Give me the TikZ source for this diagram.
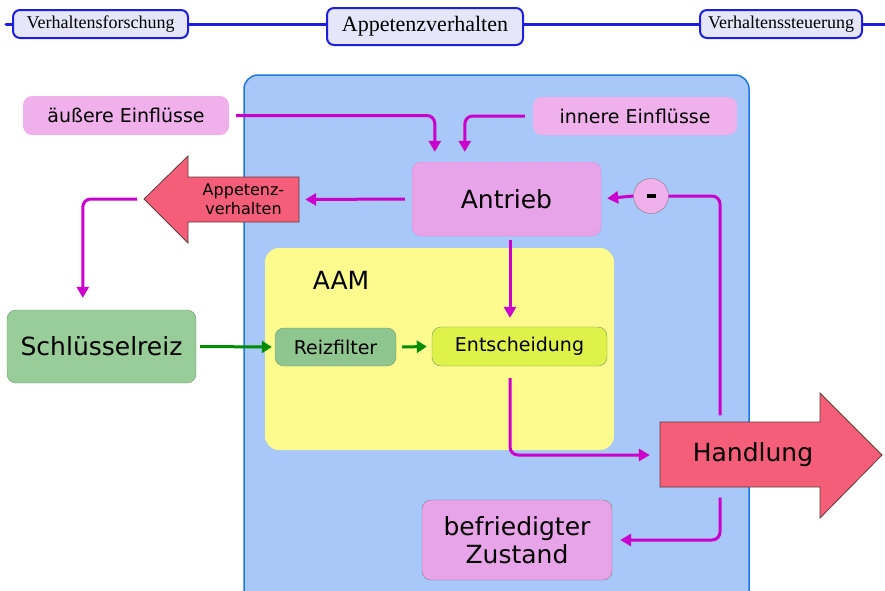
\documentclass[tikz,border=0pt]{standalone}
\usepackage{fontspec}
\setmainfont{DejaVu Sans}
\newfontfamily\toplabelfont{Liberation Serif}
\usetikzlibrary{arrows.meta,calc}

\definecolor{areablue}{RGB}{168,200,250}
\definecolor{areaedge}{RGB}{30,120,230}
\definecolor{aamyellow}{RGB}{253,251,142}
\definecolor{lilac}{RGB}{240,176,236}
\definecolor{drivepink}{RGB}{232,164,232}
\definecolor{pinkedge}{RGB}{205,145,215}
\definecolor{keygreen}{RGB}{152,204,152}
\definecolor{filtergreen}{RGB}{143,197,143}
\definecolor{greenedge}{RGB}{110,150,110}
\definecolor{decidegreen}{RGB}{222,242,74}
\definecolor{arrowred}{RGB}{245,94,120}
\definecolor{redge}{RGB}{90,60,60}
\definecolor{linkmagenta}{RGB}{204,0,204}
\definecolor{stimgreen}{RGB}{0,140,0}
\definecolor{toplav}{RGB}{230,230,250}
\definecolor{topblue}{RGB}{30,30,225}

\begin{document}
\begin{tikzpicture}[x=1pt, y=-1pt,
    box/.style={rounded corners=9pt, align=center, inner sep=0pt},
    bigtext/.style={font=\fontsize{25}{30}\selectfont},
    midtext/.style={font=\fontsize{19}{23}\selectfont},
    toplabel/.style={draw=topblue, line width=2pt, fill=toplav, rounded corners=7pt, inner sep=0pt},
    link/.style={-{Triangle[length=11pt,width=12pt]}, linkmagenta, line width=3pt, rounded corners=8pt},
    stim/.style={-{Triangle[length=10pt,width=12pt]}, stimgreen, line width=3pt},
    bigarrow/.style={fill=arrowred, draw=redge, line width=0.8pt}
  ]
    \useasboundingbox (0,0) rectangle (885,590);

    % top bar
    \draw[topblue, line width=3pt, line cap=round] (6,24) -- (885,24);
    \node[toplabel, minimum width=175pt, minimum height=28pt, font=\toplabelfont\fontsize{18}{20}\selectfont] (forschung) at (100.5,24) {Verhaltensforschung};
    \node[toplabel, minimum width=196pt, minimum height=37pt, font=\toplabelfont\fontsize{22}{24}\selectfont] (appz) at (425,26.5) {Appetenzverhalten};
    \node[toplabel, minimum width=162pt, minimum height=28pt, font=\toplabelfont\fontsize{18}{20}\selectfont] (steuerung) at (781,24) {Verhaltenssteuerung};

    % areas
    \draw[fill=areablue, draw=areaedge, line width=1.5pt, rounded corners=14pt] (244,75) rectangle (749,610);
    \fill[aamyellow, rounded corners=14pt] (265,248) rectangle (614,450);
    \node[bigtext] (aam) at (341,280) {AAM};

    % nodes
    \node[box, midtext, fill=lilac, minimum width=206pt, minimum height=39pt] (aussen) at (126,115.5) {äußere Einflüsse};
    \node[box, midtext, fill=lilac, minimum width=204pt, minimum height=38pt] (innen) at (635,116) {innere Einflüsse};
    \node[box, bigtext, fill=drivepink, draw=pinkedge, minimum width=189pt, minimum height=74pt] (antrieb) at (506.5,199) {Antrieb};
    \node[box, bigtext, fill=keygreen, draw=greenedge, minimum width=189pt, minimum height=73pt] (schluessel) at (101.5,346.5) {Schlüsselreiz};
    \node[box, midtext, fill=filtergreen, draw=greenedge, minimum width=121pt, minimum height=38pt] (reizfilter) at (335.5,347) {Reizfilter};
    \node[box, midtext, fill=decidegreen, draw=greenedge, minimum width=175pt, minimum height=39pt] (entsch) at (519.5,346.5) {Entscheidung};
    \node[box, bigtext, fill=drivepink, draw=redge!70, minimum width=190pt, minimum height=80pt] (zustand) at (517,540) {befriedigter\\[-2pt]Zustand};

    % Appetenz arrow
    \draw[bigarrow] (299,177) -- (188,177) -- (188,156) -- (144,199) -- (188,243) -- (188,222) -- (299,222) -- cycle;
    \node[align=center, font=\fontsize{16}{19}\selectfont, minimum width=111pt, minimum height=45pt, inner sep=0pt] (appet) at (243.5,199.5) {Appetenz-\\verhalten};
    \coordinate (apptip) at (144,199);

    % Handlung arrow
    \draw[bigarrow] (660,422) -- (820,422) -- (820,393) -- (882,455) -- (820,518) -- (820,487) -- (660,487) -- cycle;
    \node[bigtext, minimum width=160pt, minimum height=65pt, inner sep=0pt] (hand) at (740,455) {\hspace*{26pt}Handlung};

    \node[circle, draw=redge!70, fill=lilac, minimum size=35pt, inner sep=0pt] (neg) at (651,196) {\rule[-1.7pt]{9pt}{3.4pt}};

    % connectors
    \draw[link, shorten <=7pt, shorten >=10pt] (aussen.east) -| ([xshift=23pt]antrieb.north west);
    \draw[link, shorten <=8pt, shorten >=10pt] (innen.west) -| ([xshift=53pt]antrieb.north west);
    \draw[link, shorten <=7pt, shorten >=6pt] (antrieb.west) -- (appet.east);
    \draw[link, shorten <=7pt, shorten >=12pt] (apptip) -| ([xshift=76pt]schluessel.north west);
    \draw[link, shorten <=4pt, shorten >=9pt] ([xshift=3.5pt]antrieb.south) -- ([xshift=3.5pt]antrieb.south |- entsch.north);
    \draw[stim, shorten <=4pt, shorten >=3pt] (schluessel.east) -- (reizfilter.west);
    \draw[stim, shorten <=6pt, shorten >=5pt] (reizfilter.east) -- (entsch.west);
    \draw[link, shorten <=12pt, shorten >=10pt] ([xshift=-9.5pt]entsch.south) |- (hand.west);
    \draw[link, -, shorten <=7pt] ([xshift=-20pt]hand.north) |- (neg.east);
    \draw[link, shorten >=6pt] (neg.west) -- (antrieb.east);
    \draw[link, shorten <=10pt, shorten >=8pt] ([xshift=-20pt]hand.south) |- (zustand.east);
\end{tikzpicture}
\end{document}
